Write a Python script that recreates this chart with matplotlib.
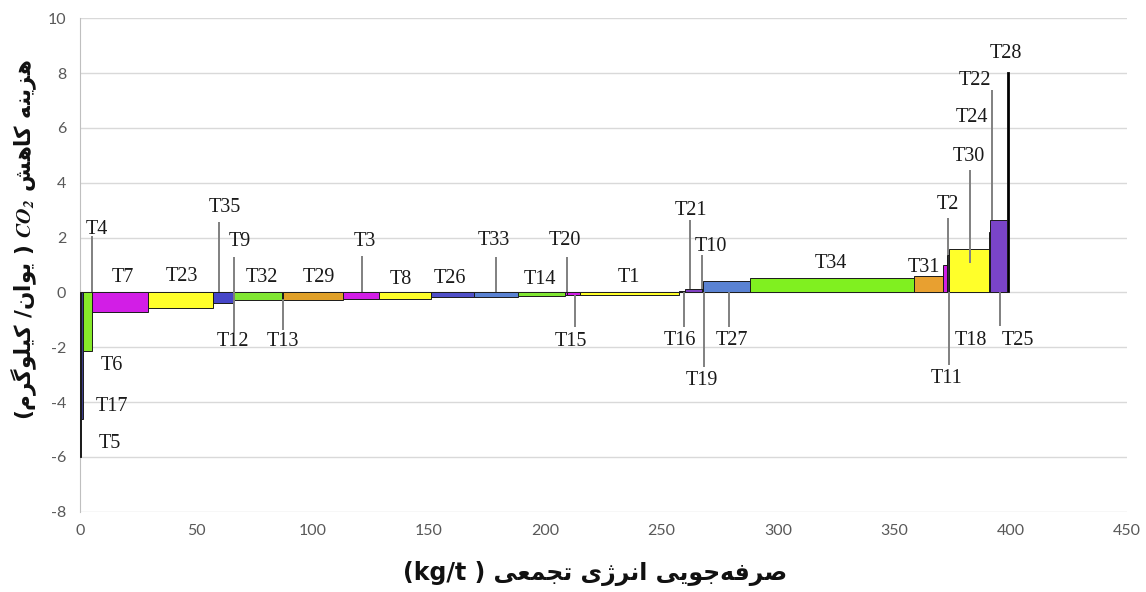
import numpy as np
import matplotlib
matplotlib.use("Agg")
import matplotlib.pyplot as plt

# ---------------- data ----------------
names = ["T5", "T17", "T6", "T4", "T7", "T23", "T35", "T9", "T12", "T32", "T13", "T29",
         "T3", "T8", "T26", "T33", "T14", "T20", "T15", "T1", "T16", "T21", "T10", "T19",
         "T27", "T34", "T31", "T11", "T2", "T18", "T30", "T24", "T22", "T25", "T28"]
widths = [0.6, 0.8, 3.6, 0.3, 24.1, 27.7, 8.6, 0.3, 0.3, 20.5, 0.4, 26.0,
          15.1, 22.7, 18.5, 18.6, 20.5, 0.7, 5.5, 42.5, 2.9, 7.0, 0.3, 0.3,
          20.1, 70.5, 12.6, 1.8, 0.6, 0.2, 17.1, 0.3, 0.3, 7.3, 0.8]
costs = [-6.0, -4.6, -2.15, -0.8, -0.72, -0.56, -0.39, -0.35, -0.32, -0.29, -0.28, -0.27,
         -0.25, -0.23, -0.17, -0.15, -0.14, -0.10, -0.10, -0.08, 0.05, 0.13, 0.2, 0.3,
         0.4, 0.52, 0.6, 1.0, 1.35, 1.4, 1.6, 2.2, 2.5, 2.65, 8.05]
colors = ["#404040", "#3c3c8c", "#86ea2a", "#86ea2a", "#d21ee6", "#ffff2a", "#4646c8",
          "#4646c8", "#5a82d2", "#80e632", "#e0a028", "#e0a028",
          "#d21ee6", "#ffff2a", "#5050c8", "#5a82d2", "#80e632", "#d21ee6", "#d21ee6",
          "#ffff2a", "#303030", "#8040c0", "#303030", "#5a82d2",
          "#5a82d2", "#80f020", "#e8a030", "#d21ee6", "#303030", "#303030", "#ffff2a",
          "#7a44c8", "#7a44c8", "#7a44c8", "#000000"]

x_ticks = [0, 50, 100, 150, 200, 250, 300, 350, 400, 450]
y_ticks = [-8, -6, -4, -2, 0, 2, 4, 6, 8, 10]

# label layout: (text, x, y)
label_pos = [("T4", 7.2, 2.3), ("T6", 13.6, -2.65), ("T17", 13.6, -4.17), ("T5", 12.9, -5.5),
             ("T7", 18.6, 0.55), ("T23", 43.7, 0.57), ("T35", 62.4, 3.1), ("T9", 68.8, 1.85),
             ("T12", 65.9, -1.8), ("T32", 78.1, 0.55), ("T29", 102.5, 0.55), ("T13", 87.2, -1.8),
             ("T3", 122.6, 1.85), ("T8", 137.9, 0.48), ("T26", 159.1, 0.51), ("T33", 177.8, 1.89),
             ("T14", 197.6, 0.48), ("T20", 208.6, 1.89), ("T15", 210.8, -1.8), ("T1", 235.7, 0.53),
             ("T21", 262.4, 3.0), ("T10", 271.3, 1.67), ("T16", 257.8, -1.74), ("T19", 267.1, -3.2),
             ("T27", 280.3, -1.74), ("T34", 322.6, 1.06), ("T31", 362.5, 0.92), ("T2", 372.8, 3.19),
             ("T11", 372.4, -3.13), ("T18", 382.8, -1.74), ("T30", 382.1, 4.95), ("T24", 383.5, 6.39),
             ("T22", 384.6, 7.72), ("T28", 397.8, 8.72), ("T25", 402.9, -1.74)]
# leader lines: (x, y_from, y_to)
leaders = [(5.3, 0.0, 2.06), (59.9, 0.0, 2.58), (66.2, 1.28, -1.43), (87.2, -0.25, -1.37),
           (121.4, 0.0, 1.33), (178.8, 0.0, 1.3), (209.3, 0.0, 1.3), (212.9, -0.1, -1.25),
           (262.1, 0.13, 2.64), (267.4, 0.14, 1.36), (268.1, 0.0, -2.71), (259.5, 0.0, -1.25),
           (278.9, 0.0, -1.25), (373.2, 1.36, 2.7), (373.5, 0.0, -2.65), (382.4, 1.06, 4.47),
           (391.8, 2.65, 7.38), (395.4, 0.0, -1.23)]

# ------------- minimal Persian shaping -------------
FORMS = {
    '\u0627': ('\uFE8D', '\uFE8E', None, None),
    '\u062A': ('\uFE95', '\uFE96', '\uFE97', '\uFE98'),
    '\u062C': ('\uFE9D', '\uFE9E', '\uFE9F', '\uFEA0'),
    '\u0631': ('\uFEAD', '\uFEAE', None, None),
    '\u0632': ('\uFEAF', '\uFEB0', None, None),
    '\u0698': ('\uFB8A', '\uFB8B', None, None),
    '\u0634': ('\uFEB5', '\uFEB6', '\uFEB7', '\uFEB8'),
    '\u0635': ('\uFEB9', '\uFEBA', '\uFEBB', '\uFEBC'),
    '\u0639': ('\uFEC9', '\uFECA', '\uFECB', '\uFECC'),
    '\u0641': ('\uFED1', '\uFED2', '\uFED3', '\uFED4'),
    '\u06A9': ('\uFB8E', '\uFB8F', '\uFB90', '\uFB91'),
    '\u06AF': ('\uFB92', '\uFB93', '\uFB94', '\uFB95'),
    '\u0644': ('\uFEDD', '\uFEDE', '\uFEDF', '\uFEE0'),
    '\u0645': ('\uFEE1', '\uFEE2', '\uFEE3', '\uFEE4'),
    '\u0646': ('\uFEE5', '\uFEE6', '\uFEE7', '\uFEE8'),
    '\u0647': ('\uFEE9', '\uFEEA', '\uFEEB', '\uFEEC'),
    '\u0648': ('\uFEED', '\uFEEE', None, None),
    '\u06CC': ('\uFBFC', '\uFBFD', '\uFBFE', '\uFBFF'),
}


def shape(word):
    out = []
    for i, c in enumerate(word):
        if c not in FORMS:
            if c != '\u200c':
                out.append(c)
            continue
        prev = word[i - 1] if i > 0 else None
        nxt = word[i + 1] if i + 1 < len(word) else None
        jp = prev in FORMS and FORMS[prev][2] is not None
        jn = nxt in FORMS and FORMS[c][2] is not None
        iso, fin, ini, med = FORMS[c]
        if jp and jn:
            g = med
        elif jp:
            g = fin
        elif jn:
            g = ini
        else:
            g = iso
        out.append(g)
    return ''.join(reversed(out))


def rtl(sentence):
    return ' '.join(shape(w) for w in reversed(sentence.split(' ')))


xlabel_txt = "(kg/t ) " + rtl("صرفه\u200cجویی انرژی تجمعی")
ylabel_txt = "(" + shape("کیلوگرم") + " /" + shape("یوان") + " ) $\\mathbfit{CO_2}$ " + rtl("هزینه کاهش")

# ---------------- plot ----------------
plt.rcParams['axes.unicode_minus'] = False
plt.rcParams['mathtext.fontset'] = 'stix'

fig = plt.figure(figsize=(11.46, 5.92), dpi=100)
ax = fig.add_axes([80 / 1146, 1 - 511.7 / 592, (1127 - 80) / 1146, (511.7 - 18.3) / 592])

lefts = np.concatenate([[0], np.cumsum(widths)[:-1]])
ax.bar(lefts, costs, width=widths, align='edge', color=colors,
       edgecolor='#1a1a1a', linewidth=0.7, zorder=3)

for x, y0, y1 in leaders:
    ax.plot([x, x], [y0, y1], color='#808080', lw=1.4, zorder=4, solid_capstyle='butt')

for t, x, y in label_pos:
    ax.text(x, y, t, ha='center', va='center', fontsize=14.5,
            family='Liberation Serif', color='#1a1a1a', zorder=5)

ax.set_xlim(0, 450)
ax.set_ylim(-8, 10)
ax.set_xticks(x_ticks)
ax.set_yticks(y_ticks)
ax.tick_params(length=0, labelsize=11.5, labelcolor='#595959')
ax.tick_params(axis='x', pad=9)
ax.tick_params(axis='y', pad=10)
for lab in ax.get_xticklabels() + ax.get_yticklabels():
    lab.set_family('Lato')
ax.grid(axis='y', color='#d9d9d9', lw=1, zorder=0)
for s in ['top', 'right', 'bottom']:
    ax.spines[s].set_visible(False)
ax.spines['left'].set_color('#bfbfbf')
ax.spines['left'].set_zorder(2)

fig.text(595 / 1146, 1 - 574 / 592, xlabel_txt, ha='center', va='center',
         fontsize=17, fontweight='bold', family='DejaVu Sans', color='#111111')
fig.text(24 / 1146, 1 - 240 / 592, ylabel_txt, ha='center', va='center', rotation=90,
         fontsize=15.5, fontweight='bold', family='DejaVu Sans', color='#111111')

fig.savefig("out.png", dpi=100)
